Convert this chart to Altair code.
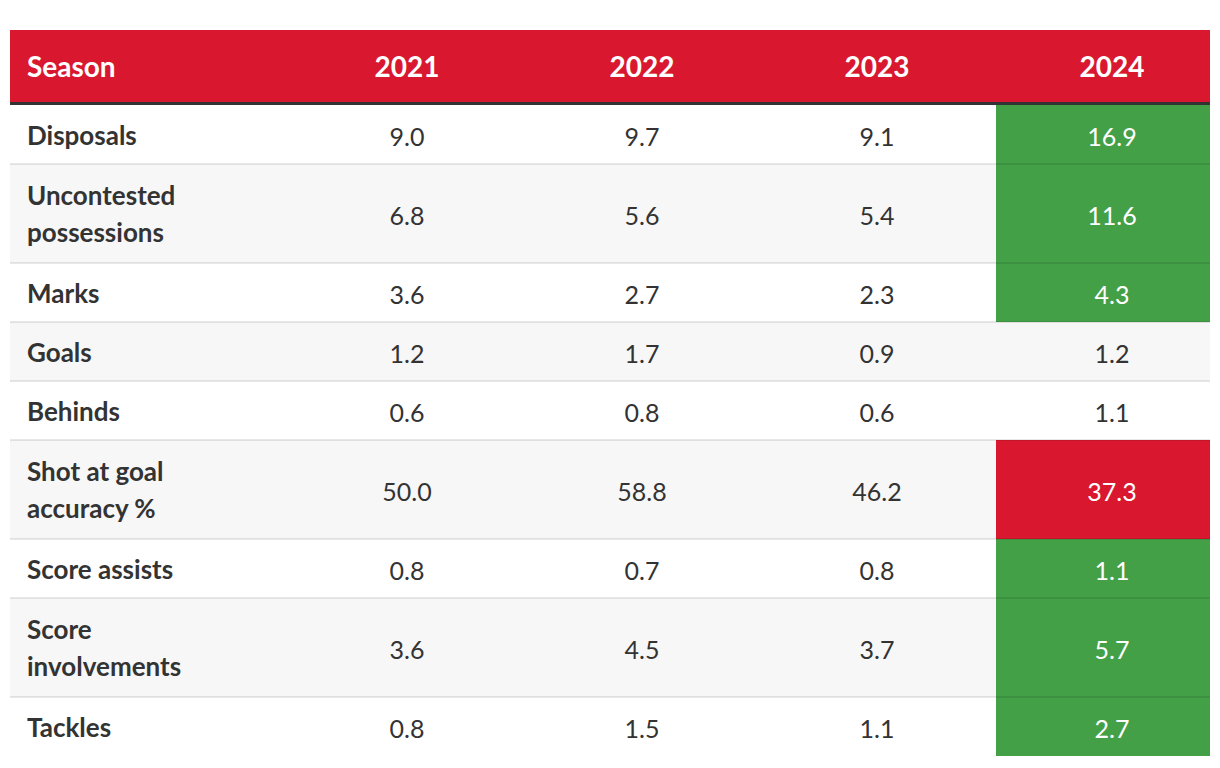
import altair as alt
import pandas as pd

# ---- data ----
stats = ["Disposals", "Uncontested\npossessions", "Marks", "Goals", "Behinds",
         "Shot at goal\naccuracy %", "Score assists", "Score\ninvolvements", "Tackles"]
seasons = ["2021", "2022", "2023", "2024"]
v2021 = [9.0, 6.8, 3.6, 1.2, 0.6, 50.0, 0.8, 3.6, 0.8]
v2022 = [9.7, 5.6, 2.7, 1.7, 0.8, 58.8, 0.7, 4.5, 1.5]
v2023 = [9.1, 5.4, 2.3, 0.9, 0.6, 46.2, 0.8, 3.7, 1.1]
v2024 = [16.9, 11.6, 4.3, 1.2, 1.1, 37.3, 1.1, 5.7, 2.7]
trend2024 = ["up", "up", "up", "none", "none", "down", "up", "up", "up"]
header_label = "Season"

# ---- layout ----
W = 1200
HEADER_H = 72
BORDER = 3
FIRST_COL = 281
COL_W = 235
TEXT_OFF = 116
LH = 37
DY = 2
RED = "#d9182f"
GREEN = "#43a047"
FONT = "Lato"

values = [v2021, v2022, v2023, v2024]

rows = []
top = HEADER_H + BORDER
for i, s in enumerate(stats):
    n = s.count("\n") + 1
    h = 19 + 40 * n
    mid = top + h / 2
    rows.append({"label": s, "top": top, "bottom": top + h, "mid": mid,
                 "ly": mid - (n - 1) * LH / 2 + DY,
                 "bg": "#f7f7f7" if i % 2 == 1 else "#ffffff", "i": i})
    top += h
H = top
rows_df = pd.DataFrame(rows)

cells = []
for i, r in enumerate(rows):
    for j, season in enumerate(seasons):
        v = values[j][i]
        fill = trend2024[i] if j == 3 else "none"
        cells.append({"x": FIRST_COL + j * COL_W + TEXT_OFF, "y": r["mid"] + 1 + DY, "v": v,
                      "top": r["top"], "bottom": r["bottom"],
                      "x0": FIRST_COL + j * COL_W, "x1": W,
                      "fill": fill, "tc": "#ffffff" if fill != "none" else "#333333"})
cells_df = pd.DataFrame(cells)
hl_df = cells_df[cells_df["fill"] != "none"]

header_df = pd.DataFrame(
    [{"x": 17, "t": header_label, "align": "left"}] +
    [{"x": FIRST_COL + j * COL_W + TEXT_OFF, "t": s, "align": "center"} for j, s in enumerate(seasons)]
)

xs = alt.Scale(domain=[0, W], nice=False, zero=False)
ys = alt.Scale(domain=[0, H], nice=False, zero=False, reverse=True)

def X(f):
    return alt.X(f, type="quantitative", scale=xs, axis=None)

def Y(f):
    return alt.Y(f, type="quantitative", scale=ys, axis=None)

bg = alt.Chart(rows_df).mark_rect().encode(
    x=alt.value(0), x2=alt.value(W),
    y=Y("top"), y2=alt.Y2("bottom"),
    color=alt.Color("bg:N", scale=None),
)

hl = alt.Chart(hl_df).mark_rect().encode(
    x=X("x0"), x2=alt.X2("x1"),
    y=Y("top"), y2=alt.Y2("bottom"),
    color=alt.Color("fill:N", scale=alt.Scale(domain=["up", "down"], range=[GREEN, RED]), legend=None),
)

lines = alt.Chart(rows_df[rows_df["i"] < len(stats) - 1]).mark_rule(
    color="#000000", strokeWidth=2, opacity=0.09
).encode(x=alt.value(0), x2=alt.value(W), y=Y("bottom"))

header = alt.Chart(pd.DataFrame({"a": [0], "b": [HEADER_H]})).mark_rect(color=RED).encode(
    x=alt.value(0), x2=alt.value(W), y=Y("a"), y2=alt.Y2("b")
)
border = alt.Chart(pd.DataFrame({"a": [HEADER_H], "b": [HEADER_H + BORDER]})).mark_rect(color="#333333").encode(
    x=alt.value(0), x2=alt.value(W), y=Y("a"), y2=alt.Y2("b")
)

head_left = alt.Chart(header_df[header_df["align"] == "left"]).mark_text(
    align="left", baseline="middle", font=FONT, fontSize=28, fontWeight="bold", color="#ffffff"
).encode(x=X("x"), y=alt.value(HEADER_H / 2 + 1 + DY), text="t:N")
head_center = alt.Chart(header_df[header_df["align"] == "center"]).mark_text(
    align="center", baseline="middle", font=FONT, fontSize=28, fontWeight="bold", color="#ffffff"
).encode(x=X("x"), y=alt.value(HEADER_H / 2 + 1 + DY), text="t:N")

labels = alt.Chart(rows_df).mark_text(
    align="left", baseline="middle", font=FONT, fontSize=26, fontWeight="bold",
    color="#333333", lineBreak="\n", lineHeight=LH
).encode(x=alt.value(17), y=Y("ly"), text="label:N")

nums = alt.Chart(cells_df).mark_text(
    align="center", baseline="middle", font=FONT, fontSize=25
).encode(
    x=X("x"), y=Y("y"),
    text=alt.Text("v:Q", format=".1f"),
    color=alt.Color("tc:N", scale=None),
)

chart = alt.layer(bg, hl, lines, header, border, head_left, head_center, labels, nums).properties(
    width=W, height=H,
    autosize=alt.AutoSizeParams(type="none"),
    padding={"left": 2, "top": 22, "right": 2, "bottom": 3},
).configure_view(stroke=None).resolve_scale(color="independent")

chart.save("out.html", embed_options={"renderer": "svg", "actions": False})
